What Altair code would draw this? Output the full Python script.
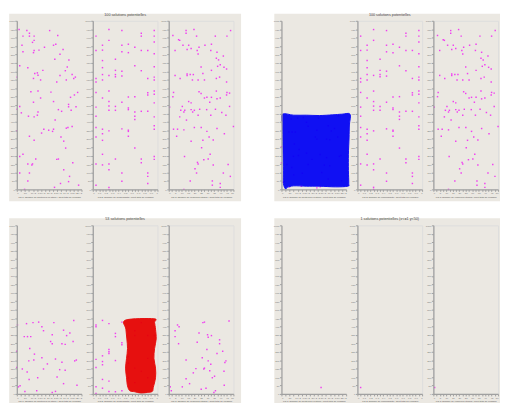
import altair as alt
import pandas as pd

# ---------------- data ----------------
# 100 solutions : Fig 1 (x = stock, y = total delivery cost)
t1x = [14, 62, 78, 38, 78, 107, 253, 203, 107, 97, 32, 171, 227, 241, 137, 107, 103, 38, 286, 267,
       235, 322, 18, 68, 312, 161, 300, 127, 111, 131, 342, 267, 2, 103, 147, 362, 352, 306, 247, 87,
       131, 211, 376, 356, 332, 147, 227, 103, 320,
       2, 18, 28, 72, 107, 127, 131, 257, 277, 336, 320, 366, 237, 0, 167, 197, 221, 227, 153, 306,
       316, 342, 78, 107, 273, 290, 302, 18, 38, 117, 247, 257, 68, 97, 93, 346, 290, 18, 78, 326,
       68, 320, 270, 233, 382, 48]
t1y = [948, 942, 926, 909, 909, 909, 913, 942, 884, 872, 855, 843, 855, 861, 826, 824, 811, 816, 830, 801,
       772, 768, 733, 722, 726, 706, 704, 691, 687, 677, 681, 676, 666, 658, 649, 666, 658, 649, 637, 579,
       583, 577, 575, 560, 546, 542, 521, 517, 504,
       475, 492, 454, 434, 430, 440, 459, 473, 463, 469, 490, 490, 411, 347, 357, 351, 344, 357, 334, 363,
       367, 373, 315, 291, 311, 286, 245, 195, 208, 180, 178, 180, 151, 151, 145, 158, 116, 97, 97, 77,
       50, 46, 35, 12, 25, 0]

# Fig 2
t2x = [0.25, 0.45, 0.75, 0.75, 0.95, 0.05, 0.95, 0.25, 0.95, 0.15, 0.45, 0.55, 0.65, 0.05, 0.15, 0.45, 0.55, 0.75, 0.85, 0.95,
       0.35, 0.15, 0.65, 0.15, 0.95, 0.35, 0.45, 0.75, 0.05, 0.15, 0.25, 0.35, 0.35, 0.45, 0.85, 0.95, 0.05, 0.15, 0.95, 0.05,
       0.25, 0.55, 0.65, 0.85, 0.95, 0.85, 0.95, 0.15, 0.25, 0.45, 0.95,
       0.05, 0.25, 0.35, 0.25, 0.35, 0.55, 0.55, 0.65, 0.65, 0.65, 0.75, 0.85, 0.95, 0.05, 0.05, 0.15, 0.15, 0.25, 0.45, 0.55,
       0.55, 0.55, 0.15, 0.05, 0.65, 0.95, 0.95, 0.15, 0.35, 0.75, 0.75, 0.95, 0.95, 0.05, 0.15, 0.25, 0.25, 0.45, 0.85, 0.85,
       0.85, 0.05, 0.25, 0.45, 0.25]
t2y = [948, 942, 926, 909, 942, 909, 909, 884, 874, 855, 855, 861, 843, 824, 826, 816, 811, 824, 824, 805,
       772, 764, 733, 722, 728, 706, 701, 704, 658, 681, 676, 681, 668, 672, 658, 666, 637, 649, 649, 575,
       583, 548, 550, 573, 583, 560, 564, 542, 521, 517, 513,
       488, 494, 492, 469, 469, 483, 473, 459, 434, 415, 463, 463, 430, 434, 367, 357, 330, 347, 359, 351,
       344, 315, 291, 311, 245, 378, 357, 208, 180, 180, 158, 195, 178, 151, 145, 151, 116, 97, 97, 77,
       35, 25, 12, 48, 0]

# Fig 3
t3x = [13.4, 13.4, 19.5, 3.2, 7.6, 8.5, 11, 15.4, 21.5, 23.4, 28, 33, 36, 45, 47.8, 4.9, 14.2, 17.3, 22, 32.5,
       37.3, 22.7, 38.5, 36.8, 42.2, 39.8, 42.7, 44.7, 37.8, 33, 25, 26.4, 19, 14.2, 14.2, 16.6, 4.9, 8.8, 22.7, 18.3,
       27.6, 36.8, 39.3, 44.7, 23.4, 36.8, 45, 47, 3.7, 3.2, 25, 29.5, 27.6, 33, 37.3, 39.8, 44.7, 15.4, 17.3, 31.7,
       0.7, 10.5, 9.3, 12.4, 11.7, 19.8, 17.3, 18.5, 23.9, 29.3, 36.1, 8.5, 13.7, 22.7, 32.5, 41, 44.2, 47, 3.7, 6.8,
       11.7, 6.1, 19.8, 25.1, 29.5, 37.3, 43, 50, 17.3, 26.4, 31.2, 25.4, 34.4, 12.2, 32, 27.1, 30.5, 22.2, 22.7, 34.4,
       45.9, 20.3, 21.5, 42.2, 47.6, 16.6, 33.7, 33.7, 39.8, 39.8, 11.7]
t3y = [942, 926, 948, 913, 888, 884, 855, 855, 909, 843, 855, 861, 909, 909, 942, 824, 830, 836, 824, 824,
       813, 803, 768, 778, 791, 739, 724, 714, 730, 706, 726, 687, 681, 676, 685, 681, 676, 658, 649, 649,
       649, 658, 666, 637, 579, 583, 575, 571, 575, 550, 569, 546, 542, 546, 537, 542, 560, 521, 513, 517,
       488, 492, 469, 469, 459, 469, 473, 459, 475, 473, 475, 430, 411, 440, 440, 456, 440, 492, 357, 357,
       353, 315, 367, 367, 344, 361, 330, 373, 286, 291, 311, 247, 293, 195, 208, 176, 180, 160, 151, 145,
       147, 122, 97, 97, 77, 50, 50, 25, 35, 12, 0]

# 53 solutions
s1x = [4, 60, 100, 135, 229, 352, 155, 165, 289, 46, 66, 86, 219, 308, 328, 209, 219, 279, 299, 348,
       80, 0, 109, 74, 155, 105, 239, 279, 368, 358, 189, 165, 265, 299, 0, 34, 64, 249, 129, 76,
       289, 372, 20, 10, 50, 123, 219, 239]
s1y = [409, 417, 423, 426, 423, 436, 398, 375, 378, 340, 340, 340, 351, 346, 361, 311, 298, 298, 294, 311,
       269, 253, 236, 196, 215, 201, 207, 188, 201, 196, 178, 148, 144, 140, 157, 148, 130, 100, 96, 86,
       61, 51, 48, 42, 15, 19, 9, 15]
s2x = [0.05, 0.05, 0.15, 0.25, 0.35, 0.35, 0.45, 0.45, 0.45, 0.25, 0.25, 0.25, 0.15, 0.05, 0.15, 0.15, 0.05, 0.35, 0.15, 0.25,
       0.05, 0.15, 0.05, 0.25, 0.35, 0.45,
       0.65, 0.65, 0.85, 0.85, 0.55, 0.55, 0.65, 0.75, 0.85, 0.65, 0.55, 0.75, 0.95]
s2y = [409, 398, 436, 417, 359, 340, 426, 303, 292, 263, 250, 240, 226, 205, 192, 173, 157, 198, 86, 76,
       42, 34, 3, 15, 13, 19,
       375, 346, 346, 211, 221, 182, 153, 134, 96, 67, 96, 423, 346]
s3x = [1.2, 2, 4.9, 4.9, 6.8, 8, 7.6, 13.4, 13.4, 16.1, 19, 21, 22, 23.4, 25.9, 26.4, 27.6, 30, 30.5, 29.5,
       28.8, 30.5, 33, 32.5, 31.7, 33.7, 36.1, 37.3, 39.3, 39.3, 41.7, 43.4, 42.7, 44.2, 46.6, 42.9, 35.4, 27.1, 27.6, 10.5,
       34.9, 25.1]
s3y = [42, 19, 375, 340, 409, 398, 298, 201, 90, 61, 125, 150, 307, 361, 215, 423, 426, 351, 336, 263,
       34, 196, 346, 176, 138, 96, 19, 240, 298, 321, 253, 186, 134, 196, 432, 51, 105, 148, 153, 42,
       9, 28]

# 1 solution
o1x, o1y = [245], [38]
o2x, o2y = [0.05], [38]
o3x, o3y = [1], [38]

# hand-drawn highlight shapes (data units of their panel)
blue_x = [6, 76, 155, 235, 315, 374, 424, 420, 418, 414, 414, 416, 410, 334, 235, 155, 76, 36, 26, 12, 12, 10, 8, 6]
blue_y = [446, 440, 440, 438, 442, 446, 446, 382, 305, 208, 112, 35, 19, 15, 19, 19, 21, 12, 2, 35, 112, 208, 305, 382]
red_x = [0.507, 0.945, 0.955, 0.970, 0.980, 0.955, 0.945, 0.970, 0.970, 0.935, 0.920, 0.846, 0.746, 0.647, 0.572,
         0.537, 0.522, 0.507, 0.522, 0.537, 0.527, 0.512]
red_y = [438, 446, 423, 384, 326, 269, 211, 153, 96, 38, 15, 9, 5, 13, 19, 48, 96, 153, 211, 269, 326, 384]

titles = ["100 solutions potentielles", "100 solutions potentielles",
          "53 solutions potentielles", "1 solutions potentielles (x<=1 y<50)"]
fig_titles = ["Fig 1: Nombre de bouteilles en stock / Coût total de livraison",
              "Fig 2: Nombre de composants / Coût total de livraison",
              "Fig 3: Nombre de véhicules utilisés / Coût total de livraison"]
Y_TICKS = [0, 50, 100, 150, 200, 250, 300, 350, 400, 450, 500, 550, 600, 650, 700, 750, 800, 850, 900, 950, 1000]
F1_TICKS = [0, 25, 50, 75, 100, 125, 150, 175, 200, 225, 250, 275, 300, 325, 350, 375, 400]
F2_TICKS = [0, 0.05, 0.1, 0.15, 0.2, 0.25, 0.3, 0.35, 0.4, 0.45, 0.5, 0.55, 0.6, 0.65, 0.7, 0.75, 0.8, 0.85, 0.9, 0.95, 1]
F3_TICKS = [0, 2.5, 5, 7.5, 10, 12.5, 15, 17.5, 20, 22.5, 25, 27.5, 30, 32.5, 35, 37.5, 40, 42.5, 45, 47.5, 50]

# ---------------- styling / layout ----------------
W, H = 66, 172
S_IN = 11.5
QW = 3 * W + 2 * S_IN
BEIGE = "#ebe8e2"
PINK = "#f040f0"
AXC = "#a0a0a0"
FONT = "Liberation Sans"

FIGS = [
    dict(domain=[0, 400], ticks=F1_TICKS, expr="datum.value % 50 == 0 ? datum.label : ''", title=fig_titles[0]),
    dict(domain=[0, 1], ticks=F2_TICKS,
         expr="abs(datum.value * 10 - round(datum.value * 10)) < 0.001 ? datum.label : ''", title=fig_titles[1]),
    dict(domain=[0, 50], ticks=F3_TICKS, expr="datum.value % 5 == 0 ? datum.label : ''", title=fig_titles[2]),
]


def encodings(fig):
    x = alt.X("x:Q", scale=alt.Scale(domain=fig["domain"], nice=False, zero=False),
              axis=alt.Axis(values=fig["ticks"], labelExpr=fig["expr"], format="~g", title=fig["title"],
                            grid=False, domainColor=AXC, domainWidth=1.2, tickColor=AXC, tickSize=2,
                            labelFontSize=2.5, labelColor="#7a7a7a", labelFont=FONT, labelPadding=0.5,
                            labelOverlap=False, titleFontSize=2.4, titleFont=FONT, titleColor="#555",
                            titleFontWeight="normal", titlePadding=1.2, zindex=1))
    y = alt.Y("y:Q", scale=alt.Scale(domain=[0, 1000], nice=False),
              axis=alt.Axis(values=Y_TICKS, format="d", title=None, grid=False, domainColor=AXC,
                            domainWidth=1.3, tickColor=AXC, tickSize=2, labelFontSize=2.6,
                            labelColor="#7a7a7a", labelFont=FONT, labelPadding=0.5, labelOverlap=False,
                            zindex=1))
    return x, y


def panel(k, xs, ys, bg=None, blob=None, blob_color=None, title=None):
    fig = FIGS[k]
    x, y = encodings(fig)
    layers = []
    if bg is not None:
        L, R, T, B = bg
        layers.append(alt.Chart(pd.DataFrame({"k": [0]})).mark_rect(color=BEIGE).encode(
            x=alt.value(-L), x2=alt.value(QW + R), y=alt.value(-T), y2=alt.value(H + B)))
    df = pd.DataFrame({"x": xs, "y": ys})
    layers.append(alt.Chart(df).mark_square(size=2.2, color=PINK, opacity=1).encode(x=x, y=y))
    if blob is not None:
        bdf = pd.DataFrame({"x": blob[0], "y": blob[1], "i": list(range(len(blob[0])))})
        layers.append(alt.Chart(bdf).mark_line(color=blob_color, fill=blob_color, strokeWidth=1,
                                               interpolate="cardinal-closed", opacity=0.93)
                      .encode(x=x, y=y, order="i:Q"))
    ch = alt.layer(*layers).properties(width=W, height=H)
    if title is not None:
        ch = ch.properties(title=alt.TitleParams(title, fontSize=3.8, font=FONT, color="#444",
                                                 fontWeight="normal", offset=3.6, frame="group",
                                                 anchor="middle", zindex=1))
    return ch


def quad(title, d1, d2, d3, bg, blob1=None, c1=None, blob2=None, c2=None):
    p1 = panel(0, d1[0], d1[1], bg=bg, blob=blob1, blob_color=c1)
    p2 = panel(1, d2[0], d2[1], blob=blob2, blob_color=c2, title=title)
    p3 = panel(2, d3[0], d3[1])
    return alt.hconcat(p1, p2, p3, spacing=S_IN, bounds="flush")


qA = quad(titles[0], (t1x, t1y), (t2x, t2y), (t3x, t3y), bg=(7.8, 7.8, 7.3, 12))
qB = quad(titles[1], (s1x, s1y), (t2x, t2y), (t3x, t3y), bg=(7.3, 2, 7.3, 12),
          blob1=(blue_x, blue_y), c1="#0000f5")
qC = quad(titles[2], (s1x, s1y), (s2x, s2y), (s3x, s3y), bg=(7.8, 7.8, 7.3, 9.7),
          blob2=(red_x, red_y), c2="#e60000")
qD = quad(titles[3], (o1x, o1y), (o2x, o2y), (o3x, o3y), bg=(7.3, 2, 7.3, 9.7))

row1 = alt.hconcat(qA, qB, spacing=31)
row2 = alt.hconcat(qC, qD, spacing=31)
chart = alt.vconcat(row1, row2, spacing=14.7).properties(padding=0).configure_view(stroke=None).configure(
    background="white")

chart.save("out.html", embed_options={"renderer": "svg", "actions": False})
